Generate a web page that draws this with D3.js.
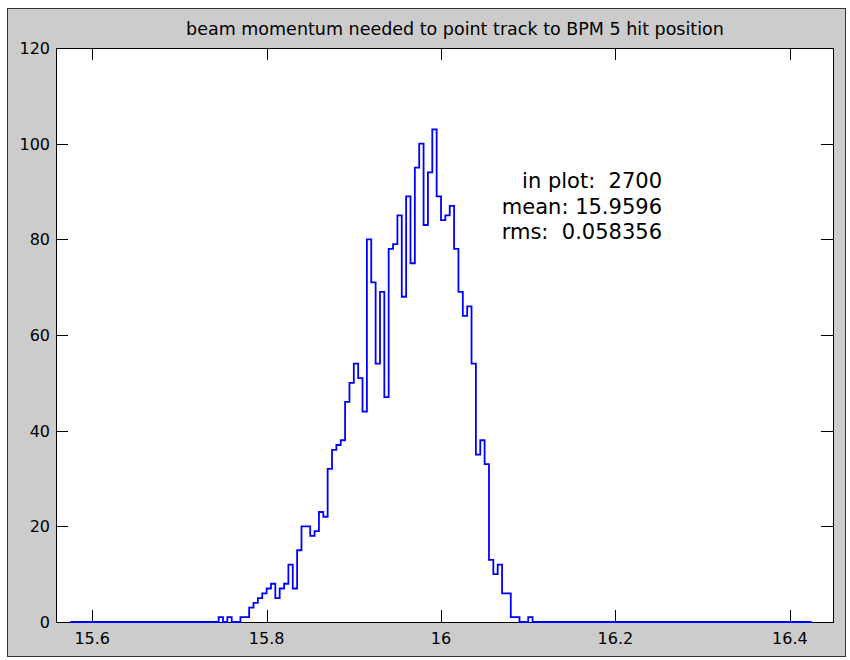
<!DOCTYPE html>
<html><head><meta charset="utf-8">
<script src="https://cdn.jsdelivr.net/npm/d3@7/dist/d3.min.js"></script>
<style>body{margin:0;background:#fff} svg{display:block} text{white-space:pre}</style>
</head><body><svg id="chart" width="850" height="660"></svg>
<script>
// ---- data ----
const titleText = "beam momentum needed to point track to BPM 5 hit position";
const xTicks = [15.6, 15.8, 16, 16.2, 16.4];
const xTickLabels = ["15.6", "15.8", "16", "16.2", "16.4"];
const yTicks = [0, 20, 40, 60, 80, 100, 120];
const yTickLabels = ["0", "20", "40", "60", "80", "100", "120"];
const xDomain = [15.5585, 16.4495];
const yDomain = [0, 120];
const histRange = [15.575, 16.425];
const binWidth = 0.005;
const firstBin = 15.745;
const counts = [1,0,1,0,0,
  1,1,3,4,5,6,7,8,
  5,7,8,12,7,15,
  20,20,18,19,23,22,
  32,36,37,38,46,50,
  54,51,44,80,71,54,
  69,47,78,79,85,68,
  89,75,95,100,83,94,
  103,89,84,85,87,78,
  69,64,66,54,35,38,
  33,13,10,12,6,6,
  1,1,0,0,1];
const statsLines = ["in plot:  2700", "mean: 15.9596", "rms:  0.058356"];

// ---- layout ----
const svg = d3.select("#chart");
const L = 56, R = 833, T = 48, B = 622;
const x = d3.scaleLinear().domain(xDomain).range([L, R]);
const y = d3.scaleLinear().domain(yDomain).range([B, T]);
const font = "'DejaVu Sans', Verdana, sans-serif";

svg.append("rect").attr("x", 0).attr("y", 0).attr("width", 850).attr("height", 660).attr("fill", "#fff");
svg.append("rect").attr("x", 7.5).attr("y", 8.5).attr("width", 838).attr("height", 648)
  .attr("fill", "#cccccc").attr("stroke", "#333").attr("stroke-width", 1);
svg.append("rect").attr("x", L + 0.5).attr("y", T + 0.5).attr("width", R - L).attr("height", B - T)
  .attr("fill", "#fff").attr("stroke", "#000").attr("stroke-width", 1);

const tickLen = 12;
const g = svg.append("g").attr("stroke", "#000").attr("stroke-width", 1).attr("shape-rendering", "crispEdges");
xTicks.forEach(v => {
  const px = Math.round(x(v)) + 0.5;
  g.append("line").attr("x1", px).attr("x2", px).attr("y1", B).attr("y2", B - tickLen);
  g.append("line").attr("x1", px).attr("x2", px).attr("y1", T).attr("y2", T + tickLen);
});
yTicks.forEach(v => {
  const py = Math.round(y(v)) + 0.5;
  g.append("line").attr("x1", L).attr("x2", L + tickLen).attr("y1", py).attr("y2", py);
  g.append("line").attr("x1", R).attr("x2", R - tickLen).attr("y1", py).attr("y2", py);
});

// histogram outline
const pts = [[histRange[0], 0]];
counts.forEach((c, i) => pts.push([firstBin + i * binWidth, c]));
pts.push([firstBin + counts.length * binWidth, 0]);
pts.push([histRange[1], 0]);
const line = d3.line().x(d => x(d[0])).y(d => y(d[1])).curve(d3.curveStepAfter);
svg.append("path").attr("d", line(pts)).attr("fill", "none")
  .attr("stroke", "#0000ff").attr("stroke-width", 1.8);

// labels
svg.append("g").selectAll("text").data(xTicks).join("text")
  .attr("x", d => x(d)).attr("y", 644).attr("text-anchor", "middle")
  .attr("font-family", font).attr("font-size", 16).attr("fill", "#000")
  .text((d, i) => xTickLabels[i]);
svg.append("g").selectAll("text").data(yTicks).join("text")
  .attr("x", 50).attr("y", d => y(d) + 6).attr("text-anchor", "end")
  .attr("font-family", font).attr("font-size", 16).attr("fill", "#000")
  .text((d, i) => yTickLabels[i]);

svg.append("text").attr("x", 455).attr("y", 35).attr("text-anchor", "middle")
  .attr("font-family", font).attr("font-size", 17.5).attr("fill", "#000").text(titleText);

svg.append("g").selectAll("text").data(statsLines).join("text")
  .attr("x", 662).attr("y", (d, i) => 188 + i * 25.5).attr("text-anchor", "end")
  .attr("font-family", font).attr("font-size", 21).attr("fill", "#000")
  .text(d => d);
</script></body></html>
